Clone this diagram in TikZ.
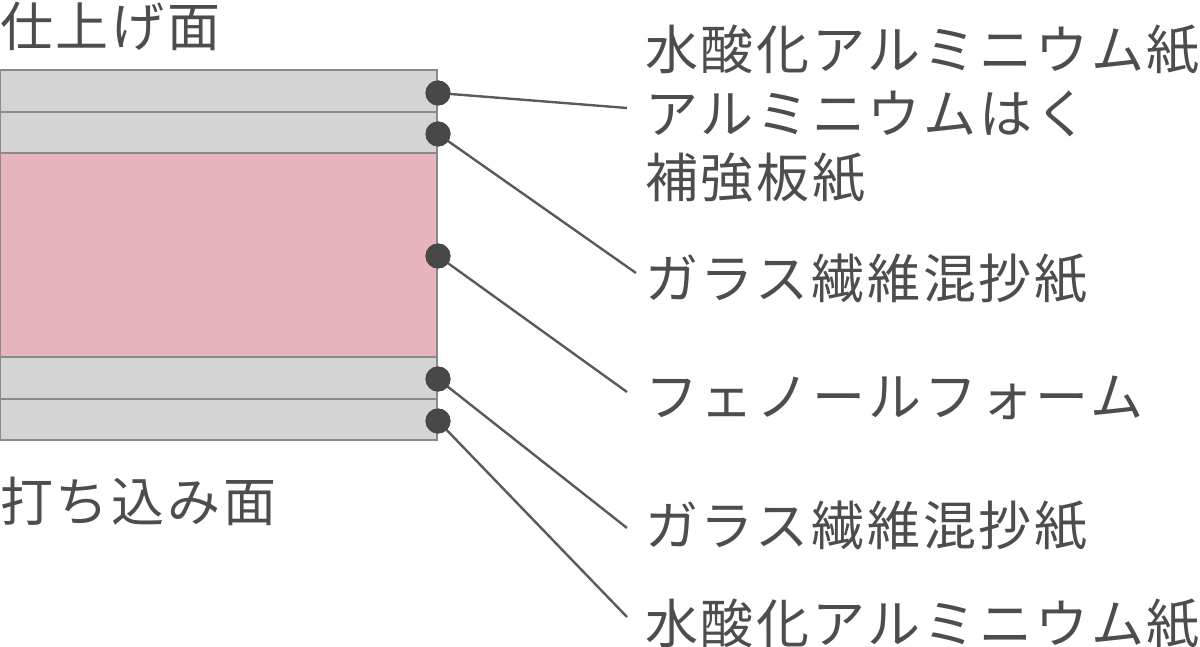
\documentclass[tikz,border=0pt]{standalone}
\usepackage{fontspec}
\newfontfamily\jpfont[LetterSpace=5.3]{Noto Sans CJK JP}
\definecolor{txt}{HTML}{4D4D4D}
\definecolor{layergray}{HTML}{D4D4D4}
\definecolor{layerpink}{HTML}{E8B4BD}
\definecolor{edgegray}{HTML}{8A8A8A}
\definecolor{dotcol}{HTML}{484848}
\definecolor{leadcol}{HTML}{5A5A5A}
\tikzset{
  layer/.style={draw=edgegray, line width=1.5pt},
  dotnode/.style={circle, fill=dotcol, minimum size=25pt, inner sep=0pt},
  leader/.style={draw=leadcol, line width=2.4pt},
  lbl/.style={text=txt, inner sep=0pt, anchor=west, align=left,
    font=\jpfont\fontsize{53}{64}\selectfont},
}
\begin{document}
\begin{tikzpicture}[x=1pt,y=-1pt]
\useasboundingbox (0,0) rectangle (1200,647);
% layers
\draw[layer, fill=layergray] (0,70) rectangle (437,112);
\draw[layer, fill=layergray] (0,112) rectangle (437,153);
\draw[layer, fill=layerpink] (0,153) rectangle (437,357);
\draw[layer, fill=layergray] (0,357) rectangle (437,399);
\draw[layer, fill=layergray] (0,399) rectangle (437,440);
% side labels
\node[lbl] (top) at (0,26) {仕上げ面};
\node[lbl] (bot) at (0,501) {打ち込み面};
% dots
\node[dotnode] (d1) at (438,93) {};
\node[dotnode] (d2) at (438,134) {};
\node[dotnode] (d3) at (438,256) {};
\node[dotnode] (d4) at (438,379) {};
\node[dotnode] (d5) at (438,421) {};
% leader ends
\coordinate (e1) at (627,108);
\coordinate (e2) at (636,273);
\coordinate (e3) at (627,392);
\coordinate (e4) at (627,528);
\coordinate (e5) at (627,617);
\draw[leader] (d1.center) -- (e1);
\draw[leader] (d2.center) -- (e2);
\draw[leader] (d3.center) -- (e3);
\draw[leader] (d4.center) -- (e4);
\draw[leader] (d5.center) -- (e5);
\node[dotnode] at (d1) {};
\node[dotnode] at (d2) {};
\node[dotnode] at (d3) {};
\node[dotnode] at (d4) {};
\node[dotnode] at (d5) {};
% right labels
\node[lbl, anchor=north west] (l1) at (645,25) {水酸化アルミニウム紙\\アルミニウムはく\\補強板紙};
\node[lbl] (l2) at (645,279) {ガラス繊維混抄紙};
\node[lbl] (l3) at (645,398) {フェノールフォーム};
\node[lbl] (l4) at (645,526) {ガラス繊維混抄紙};
\node[lbl] (l5) at (645,624) {水酸化アルミニウム紙};
\end{tikzpicture}
\end{document}
